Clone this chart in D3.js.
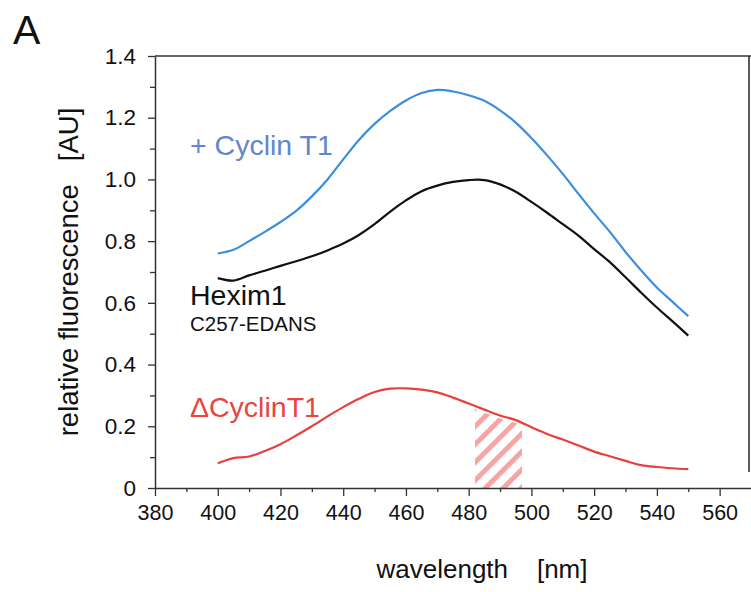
<!DOCTYPE html>
<html lang="en">
<head>
<meta charset="UTF-8">
<title>Hexim1 fluorescence spectra</title>
<style>
    body { margin: 0; background: #fff; }
    text { font-family: Arial, "Liberation Sans", sans-serif; }
</style>
</head>
<body>
<script src="https://d3js.org/d3.v7.min.js"></script>
<script>
    // wavelengths (nm) shared by the three spectra
    const wavelengths = [400, 405, 410, 415, 420, 425, 430, 435, 440, 445, 450, 455, 460, 465, 470,
        475, 480, 485, 490, 495, 500, 505, 510, 515, 520, 525, 530, 535, 540, 545, 550];

    // + Cyclin T1
    const plusCyclin = [0.76, 0.772, 0.80, 0.83, 0.862, 0.898, 0.945, 1.00, 1.065, 1.128, 1.18, 1.222, 1.256, 1.28, 1.29,
        1.285, 1.273, 1.255, 1.224, 1.184, 1.134, 1.078, 1.018, 0.953, 0.89, 0.83, 0.765, 0.705, 0.65, 0.603, 0.557];
    // Hexim1 C257-EDANS alone
    const hexim = [0.68, 0.672, 0.689, 0.704, 0.72, 0.735, 0.751, 0.77, 0.792, 0.82, 0.855, 0.896, 0.932, 0.962, 0.98,
        0.992, 0.998, 0.998, 0.984, 0.96, 0.927, 0.892, 0.855, 0.818, 0.774, 0.732, 0.683, 0.633, 0.585, 0.54, 0.494];
    // ΔCyclinT1
    const deltaCyclin = [0.08, 0.097, 0.102, 0.12, 0.142, 0.17, 0.2, 0.232, 0.262, 0.289, 0.311, 0.322, 0.323, 0.319, 0.31,
        0.293, 0.274, 0.254, 0.235, 0.22, 0.197, 0.175, 0.157, 0.138, 0.118, 0.103, 0.088, 0.074, 0.068, 0.064, 0.061];

    const xTicks = [380, 400, 420, 440, 460, 480, 500, 520, 540, 560];
    const xMinor = [390, 410, 430, 450, 470, 490, 510, 530, 550];
    const yTicks = [0, 0.2, 0.4, 0.6, 0.8, 1.0, 1.2, 1.4];
    const yMinor = [0.1, 0.3, 0.5, 0.7, 0.9, 1.1, 1.3];
    const hatchBand = [482, 497];

    const W = 751, H = 592;
    const plotLeft = 155, plotTop = 56, plotBottom = 488, plotRight = 751;

    const svg = d3.select("body").append("svg")
        .attr("width", W)
        .attr("height", H);

    const x = d3.scaleLinear().domain([380, 570]).range([plotLeft, plotRight]);
    const y = d3.scaleLinear().domain([0, 1.4]).range([plotBottom, plotTop]);

    // hatch pattern
    const defs = svg.append("defs");
    defs.append("pattern")
        .attr("id", "hatch")
        .attr("patternUnits", "userSpaceOnUse")
        .attr("width", 12.7)
        .attr("height", 12.7)
        .attr("patternTransform", "rotate(45)")
        .append("rect")
        .attr("x", 0).attr("y", 0)
        .attr("width", 5).attr("height", 12.7)
        .attr("fill", "#f9a3a3");
    defs.append("clipPath")
        .attr("id", "band")
        .append("rect")
        .attr("x", x(hatchBand[0]))
        .attr("y", plotTop)
        .attr("width", x(hatchBand[1]) - x(hatchBand[0]))
        .attr("height", plotBottom - plotTop);

    const redData = wavelengths.map((w, i) => [w, deltaCyclin[i]]);
    svg.append("path")
        .datum(redData)
        .attr("clip-path", "url(#band)")
        .attr("fill", "url(#hatch)")
        .attr("d", d3.area()
            .x(d => x(d[0]))
            .y0(y(0))
            .y1(d => y(d[1]) + 3)
            .curve(d3.curveCatmullRom));

    const axisColor = "#333";

    // y axis
    const yAxis = svg.append("g")
        .attr("transform", `translate(${plotLeft},0)`)
        .call(d3.axisLeft(y).tickValues(yTicks).tickSize(7).tickSizeOuter(0)
            .tickFormat(d => d === 0 ? "0" : d3.format(".1f")(d)));
    svg.append("g")
        .attr("transform", `translate(${plotLeft},0)`)
        .call(d3.axisLeft(y).tickValues(yMinor).tickSize(5).tickFormat(""))
        .select(".domain").remove();

    // x axis
    const xAxis = svg.append("g")
        .attr("transform", `translate(0,${plotBottom})`)
        .call(d3.axisBottom(x).tickValues(xTicks).tickSize(8).tickSizeOuter(0).tickFormat(d3.format("d")));
    svg.append("g")
        .attr("transform", `translate(0,${plotBottom})`)
        .call(d3.axisBottom(x).tickValues(xMinor).tickSize(4).tickFormat(""))
        .select(".domain").remove();

    svg.selectAll(".domain").attr("stroke", axisColor).attr("stroke-width", 1.5);
    svg.selectAll(".tick line").attr("stroke", axisColor).attr("stroke-width", 1.3);
    yAxis.selectAll(".tick text")
        .attr("x", -19)
        .attr("font-size", 22.5)
        .attr("font-family", "Arial, 'Liberation Sans', sans-serif")
        .attr("fill", "#111");
    xAxis.selectAll(".tick text")
        .attr("y", 17)
        .attr("font-size", 21.5)
        .attr("font-family", "Arial, 'Liberation Sans', sans-serif")
        .attr("fill", "#111");

    // frame (top and right)
    svg.append("path")
        .attr("d", `M${plotLeft},${plotTop}H${plotRight}M749,${plotTop}V472`)
        .attr("fill", "none")
        .attr("stroke", axisColor)
        .attr("stroke-width", 1.6);

    // spectra
    const line = d3.line()
        .x(d => x(d[0]))
        .y(d => y(d[1]))
        .curve(d3.curveCatmullRom);

    const series = [
        { values: plusCyclin, color: "#3b8fdc" },
        { values: hexim, color: "#111" },
        { values: deltaCyclin, color: "#e8403c" }
    ];
    series.forEach(s => {
        svg.append("path")
            .datum(wavelengths.map((w, i) => [w, s.values[i]]))
            .attr("fill", "none")
            .attr("stroke", s.color)
            .attr("stroke-width", 2.2)
            .attr("stroke-linejoin", "round")
            .attr("d", line);
    });

    // labels
    svg.append("text").attr("x", 13).attr("y", 44)
        .attr("font-size", 41).attr("fill", "#111").text("A");
    svg.append("text").attr("x", 190).attr("y", 155)
        .attr("font-size", 28.5).attr("fill", "#6385cc").text("+ Cyclin T1");
    svg.append("text").attr("x", 190).attr("y", 305)
        .attr("font-size", 28.5).attr("fill", "#111").text("Hexim1");
    svg.append("text").attr("x", 190).attr("y", 331)
        .attr("font-size", 20.5).attr("fill", "#111").text("C257-EDANS");
    svg.append("text").attr("x", 190).attr("y", 417)
        .attr("font-size", 28.5).attr("fill", "#e8453f").text("\u0394CyclinT1");

    // axis titles
    svg.append("text")
        .attr("transform", "translate(78,272) rotate(-90)")
        .attr("text-anchor", "middle")
        .attr("font-size", 27.5)
        .attr("fill", "#111")
        .style("white-space", "pre")
        .text("relative fluorescence   [AU]");
    svg.append("text")
        .attr("x", 482).attr("y", 578)
        .attr("text-anchor", "middle")
        .attr("font-size", 26)
        .attr("fill", "#111")
        .style("white-space", "pre")
        .text("wavelength    [nm]");
</script>
</body>
</html>
